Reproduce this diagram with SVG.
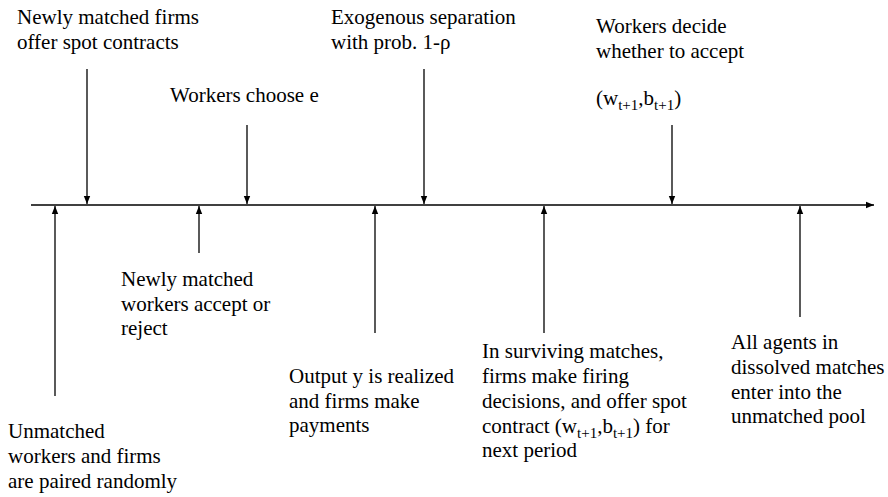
<svg xmlns="http://www.w3.org/2000/svg" width="888" height="497" viewBox="0 0 888 497">
<style>
.sub{font-size:15px}
line{stroke:#000;stroke-width:1.3}
</style>
<defs>
<marker id="ah" viewBox="0 0 10 10" refX="10" refY="5" markerWidth="8" markerHeight="8" markerUnits="userSpaceOnUse" orient="auto">
<path d="M0,1 L10,5 L0,9 Z" fill="#000"/>
</marker>
</defs>
<rect width="888" height="497" fill="#fff"/>
<g id="connectors">
<line x1="31" y1="205" x2="874" y2="205" marker-end="url(#ah)"/>
<line x1="87" y1="69" x2="87" y2="204" marker-end="url(#ah)"/>
<line x1="247" y1="125" x2="247" y2="204" marker-end="url(#ah)"/>
<line x1="424" y1="69" x2="424" y2="204" marker-end="url(#ah)"/>
<line x1="672" y1="125" x2="672" y2="204" marker-end="url(#ah)"/>
<line x1="55" y1="396" x2="55" y2="206" marker-end="url(#ah)"/>
<line x1="199" y1="253" x2="199" y2="206" marker-end="url(#ah)"/>
<line x1="375" y1="333" x2="375" y2="206" marker-end="url(#ah)"/>
<line x1="544" y1="333" x2="544" y2="206" marker-end="url(#ah)"/>
<line x1="800" y1="317" x2="800" y2="206" marker-end="url(#ah)"/>
</g>
<g font-family="Liberation Serif" font-size="21" fill="#000">
<g id="n1"><text x="17" y="24">Newly matched firms</text><text x="17" y="49">offer spot contracts</text></g>
<g id="n2"><text x="170" y="102">Workers choose e</text></g>
<g id="n3"><text x="331" y="24">Exogenous separation</text><text x="331" y="49">with prob. 1-ρ</text></g>
<g id="n4"><text x="596" y="33">Workers decide</text><text x="596" y="58">whether to accept</text><text x="596" y="105">(w<tspan class="sub" dy="5">t+1</tspan><tspan dy="-5">,b</tspan><tspan class="sub" dy="5">t+1</tspan><tspan dy="-5">)</tspan></text></g>
<g id="n5"><text x="8" y="438">Unmatched</text><text x="8" y="463">workers and firms</text><text x="8" y="488">are paired randomly</text></g>
<g id="n6"><text x="121" y="286">Newly matched</text><text x="121" y="311">workers accept or</text><text x="121" y="335">reject</text></g>
<g id="n7"><text x="289" y="383">Output y is realized</text><text x="289" y="408">and firms make</text><text x="289" y="432">payments</text></g>
<g id="n8"><text x="482" y="358">In surviving matches,</text><text x="482" y="383">firms make firing</text><text x="482" y="408">decisions, and offer spot</text><text x="482" y="433">contract (w<tspan class="sub" dy="5">t+1</tspan><tspan dy="-5">,b</tspan><tspan class="sub" dy="5">t+1</tspan><tspan dy="-5">) for</tspan></text><text x="482" y="457">next period</text></g>
<g id="n9"><text x="731" y="349">All agents in</text><text x="731" y="374">dissolved matches</text><text x="731" y="399">enter into the</text><text x="731" y="423">unmatched pool</text></g>
</g>
</svg>
